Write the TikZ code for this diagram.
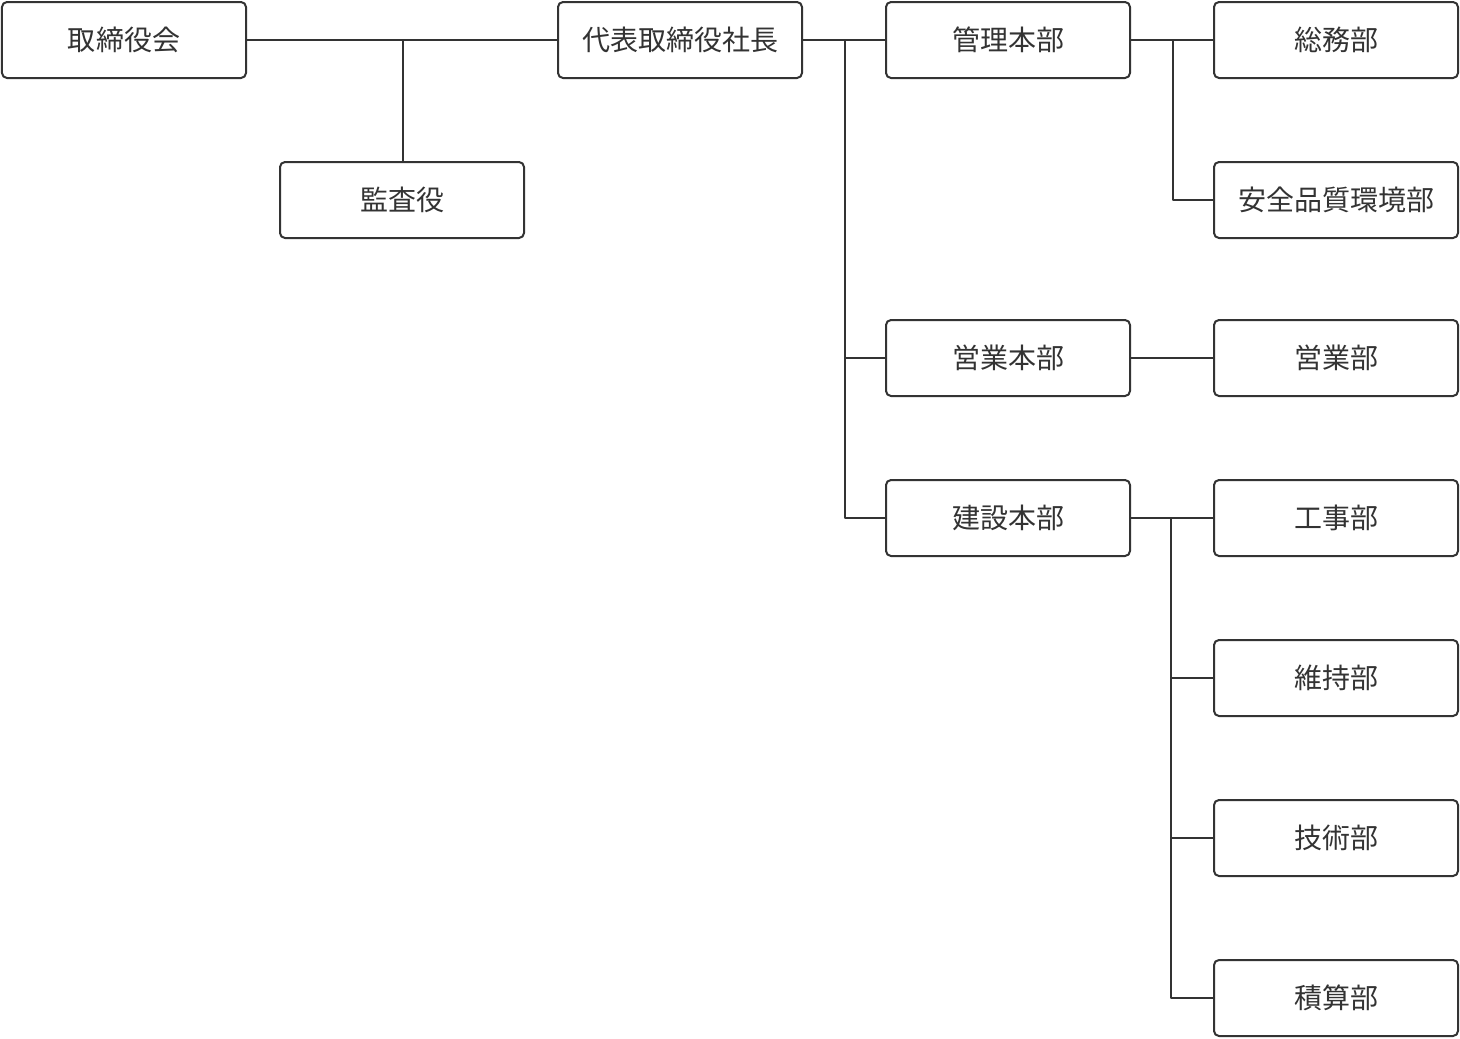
\documentclass[tikz,border=0pt]{standalone}
\usepackage{fontspec}
\setmainfont{Noto Sans CJK JP}
\definecolor{boxline}{HTML}{333333}
\tikzset{
  orgbox/.style={draw=boxline,line width=2bp,rounded corners=5bp,fill=white,
    minimum width=244bp,minimum height=76bp,inner sep=0pt,
    text=boxline,font=\fontsize{28bp}{32bp}\selectfont},
  orgline/.style={draw=boxline,line width=1.4bp},
}
\begin{document}
\begin{tikzpicture}[x=1bp,y=-1bp,line join=bevel,]
\useasboundingbox (0,0) rectangle (1460,1038);
%%
\node (node_board) at (124,40) [orgbox] {取締役会};
  \node (node_audit) at (402,200) [orgbox] {監査役};
  \node (node_president) at (680,40) [orgbox] {代表取締役社長};
  \node (node_kanri) at (1008,40) [orgbox] {管理本部};
  \node (node_eigyohq) at (1008,358) [orgbox] {営業本部};
  \node (node_kensetsu) at (1008,518) [orgbox] {建設本部};
  \node (node_somu) at (1336,40) [orgbox] {総務部};
  \node (node_anzen) at (1336,200) [orgbox] {安全品質環境部};
  \node (node_eigyo) at (1336,358) [orgbox] {営業部};
  \node (node_koji) at (1336,518) [orgbox] {工事部};
  \node (node_iji) at (1336,678) [orgbox] {維持部};
  \node (node_gijutsu) at (1336,838) [orgbox] {技術部};
  \node (node_sekisan) at (1336,998) [orgbox] {積算部};
%
  \coordinate (junc_audit) at (403,40);
  \coordinate (junc_honbu) at (845,40);
  \coordinate (junc_kanri) at (1173,40);
  \coordinate (junc_kensetsu) at (1171,518);
%
  \draw [orgline] (node_board.east) -- (node_president.west);
  \draw [orgline] (junc_audit) -- (junc_audit |- node_audit.north);
  \draw [orgline] (node_president.east) -- (node_kanri.west);
  \draw [orgline] (junc_honbu) |- (node_eigyohq.west);
  \draw [orgline] (junc_honbu) |- (node_kensetsu.west);
  \draw [orgline] (node_kanri.east) -- (node_somu.west);
  \draw [orgline] (junc_kanri) |- (node_anzen.west);
  \draw [orgline] (node_eigyohq.east) -- (node_eigyo.west);
  \draw [orgline] (node_kensetsu.east) -- (node_koji.west);
  \draw [orgline] (junc_kensetsu) |- (node_iji.west);
  \draw [orgline] (junc_kensetsu) |- (node_gijutsu.west);
  \draw [orgline] (junc_kensetsu) |- (node_sekisan.west);
%
\end{tikzpicture}
\end{document}
